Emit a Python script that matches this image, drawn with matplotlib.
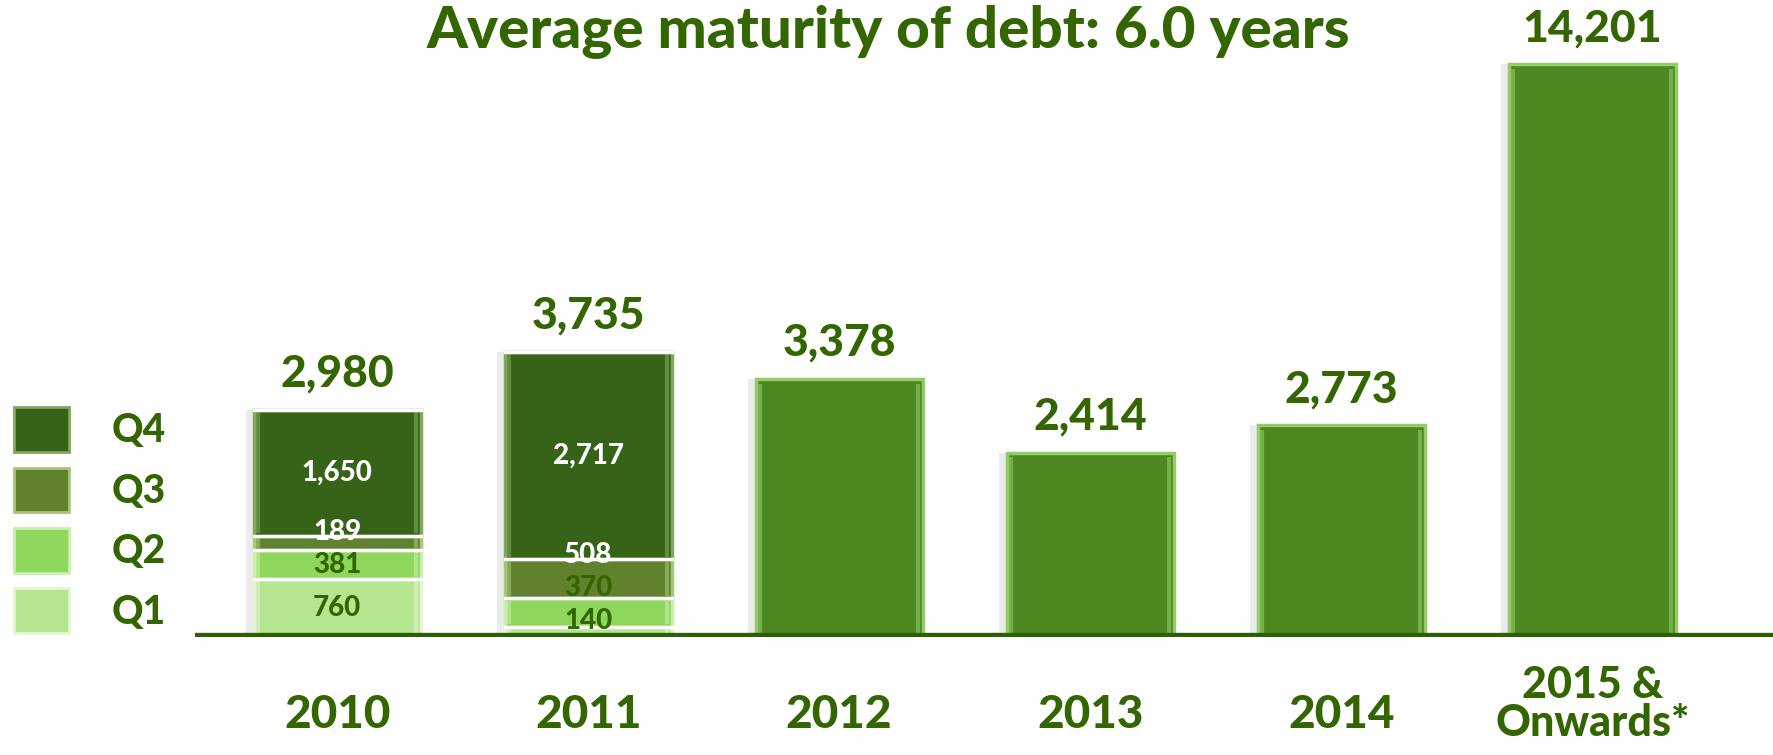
import matplotlib.pyplot as plt
from matplotlib.patches import Patch
import numpy as np

plt.rcParams['font.family'] = ['Lato', 'DejaVu Sans']
W = 'black'

# data
years = ['2010', '2011', '2012', '2013', '2014', '2015 &\nOnwards*']
totals = [2980, 3735, 3378, 2414, 2773, 14201]
quarters = ['Q1', 'Q2', 'Q3', 'Q4']
q_2010 = [760, 381, 189, 1650]
q_2011 = [140, 370, 508, 2717]
title = 'Average maturity of debt: 6.0 years'

# the last bar is drawn shortened (as on the original slide)
display_cap = 7500

txt = '#336600'
bar_col = '#4e8820'
q_cols = ['#b4e690', '#8fd65c', '#62812f', '#376318']
q_edge = ['#e2f6d2', '#c9f0aa', '#a6c77a', '#7fa85c']
q_txt = [txt, txt, 'white', 'white']

fig = plt.figure(figsize=(17.73, 7.55), dpi=100)
ax = fig.add_axes([0.110, 0.156, 0.890, 0.844])

x = np.arange(len(years))
w = 0.665
bev = 0.018

for i, tot in enumerate(totals):
    h = min(tot, display_cap)
    # soft shadow on the left
    ax.bar(x[i] - 0.03, h, w, color='#000000', alpha=0.08, linewidth=0,
           zorder=2)
    if i < 2:
        vals = q_2010 if i == 0 else q_2011
        bottom = 0
        last_y = -1e9
        for v, c, ec, tc in zip(vals, q_cols, q_edge, q_txt):
            ax.bar(x[i], v, w, bottom=bottom, color=c, edgecolor=ec,
                   linewidth=2.5, zorder=3)
            ax.vlines([x[i] - w / 2 + bev, x[i] + w / 2 - bev], bottom + 30,
                      bottom + v - 30, color=ec, linewidth=3, alpha=0.6,
                      zorder=3.2)
            ax.plot([x[i] - w / 2, x[i] + w / 2], [bottom + v, bottom + v],
                    color='white', linewidth=2.5, zorder=3.5)
            # small segments: keep labels from running into each other
            ly = max(bottom + v / 2, 215, last_y + 430)
            last_y = ly
            ax.text(x[i], ly, f'{v:,}', ha='center', va='center',
                    color=tc, fontsize=20, fontweight=W, zorder=4)
            bottom += v
    else:
        ax.bar(x[i], h, w, color=bar_col, edgecolor='#93cc68', linewidth=2.5,
               zorder=3)
        ax.vlines([x[i] - w / 2 + bev, x[i] + w / 2 - bev], 60, h - 60,
                  color='#93cc68', linewidth=3, alpha=0.6, zorder=3.2)
    ax.annotate(f'{tot:,}', (x[i], h), xytext=(0, 26), textcoords='offset points',
                ha='center', va='center', color=txt, fontsize=32, fontweight=W)

ax.axhline(0, color='#2e5e05', linewidth=6, zorder=5)
ax.set_xlim(-0.566, 5.72)
ax.set_ylim(0, 8340)
ax.set_xticks([])
ax.set_yticks([])
for s in ax.spines.values():
    s.set_visible(False)

for xi, lab in zip(x, years):
    two = '\n' in lab
    ax.annotate(lab, (xi, 0), xycoords=('data', 'axes fraction'),
                xytext=(0, -48 if two else -56), textcoords='offset points',
                ha='center', va='center', color=txt,
                fontsize=31 if two else 33, fontweight=W,
                linespacing=0.92, annotation_clip=False)

fig.text(0.501, 0.958, title, ha='center', va='center', color=txt,
         fontsize=42, fontweight=W)

handles = [Patch(facecolor=c, edgecolor=ec, linewidth=2)
           for c, ec in zip(q_cols, q_edge)][::-1]
fig.legend(handles, quarters[::-1], loc='center left',
           bbox_to_anchor=(-0.003, 0.311), frameon=False,
           handlelength=1.4, handleheight=1.4, labelspacing=0.4,
           handletextpad=1.1, borderpad=0, labelcolor=txt,
           prop={'weight': W, 'size': 28})

fig.savefig('out.png', dpi=100)
